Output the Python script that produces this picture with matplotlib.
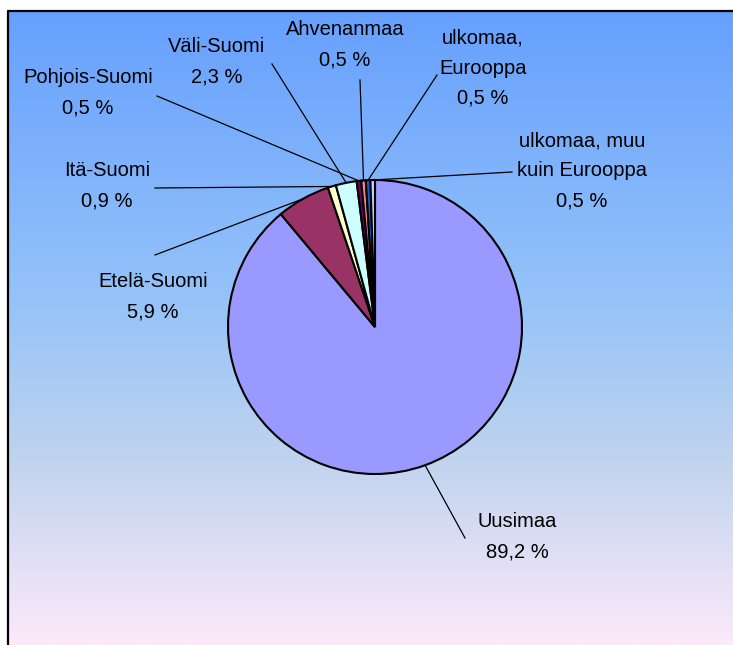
import numpy as np
import matplotlib.pyplot as plt
from matplotlib.colors import LinearSegmentedColormap

# data
alueet = ['Uusimaa', 'Etelä-Suomi', 'Itä-Suomi', 'Väli-Suomi', 'Pohjois-Suomi',
          'Ahvenanmaa', 'ulkomaa,\nEurooppa', 'ulkomaa, muu\nkuin Eurooppa']
osuus = [89.2, 5.9, 0.9, 2.3, 0.5, 0.5, 0.5, 0.5]
varit = ['#9999FF', '#993366', '#FFFFCC', '#CCFFFF', '#660066', '#FF8080', '#0066CC', '#CCCCFF']

# label layout (pixels, y down): text centre, leader start
teksti_xy = [(517, 537), (153, 297), (107, 186), (217, 62), (88, 93),
             (345, 45), (483, 68), (582, 171)]
viiva_xy = [(465, 538), (155, 255), (155, 188), (272, 64), (157, 96),
            (360, 80), (437, 75), (512, 172)]

W, H = 733, 645
fig = plt.figure(figsize=(W / 100, H / 100), dpi=100)
ax = fig.add_axes([0, 0, 1, 1])

# gradient background
cmap = LinearSegmentedColormap.from_list('bg', [(0, '#66A0FF'), (0.46, '#96C3F8'),
                                                (0.7, '#BED3EE'), (1, '#FCE9FA')])
grad = np.linspace(0, 1, 256).reshape(-1, 1)
ax.imshow(grad, cmap=cmap, extent=[7, W, 0, H - 10], aspect='auto', zorder=0)
ax.plot([7.5, 7.5, W], [0, H - 10.5, H - 10.5], color='black', lw=1.6, zorder=1)

cx, cy, r = 375, H - 327, 147
wedges, _ = ax.pie(osuus, colors=varit, startangle=90, counterclock=False,
                   center=(cx, cy), radius=r, frame=True,
                   wedgeprops=dict(edgecolor='black', linewidth=1.5))
for w in wedges:
    w.set_zorder(3)
ax.set_xlim(0, W)
ax.set_ylim(0, H)
ax.axis('off')

tot = sum(osuus)
cum = 0
for i, (nimi, v) in enumerate(zip(alueet, osuus)):
    mid = cum + v / 2
    cum += v
    ang = np.deg2rad(90 - 360 * mid / tot)
    px, py = cx + r * np.cos(ang), cy + r * np.sin(ang)
    lx, ly = viiva_xy[i]
    ax.plot([lx, px], [H - ly, py], color='black', lw=0.9, zorder=2)
    tx, ty = teksti_xy[i]
    lbl = nimi + '\n' + ('%.1f %%' % v).replace('.', ',')
    ax.text(tx, H - ty, lbl, ha='center', va='center', fontsize=14.5,
            family='Liberation Sans', linespacing=1.75, zorder=4)

fig.savefig('out.png', dpi=100)
